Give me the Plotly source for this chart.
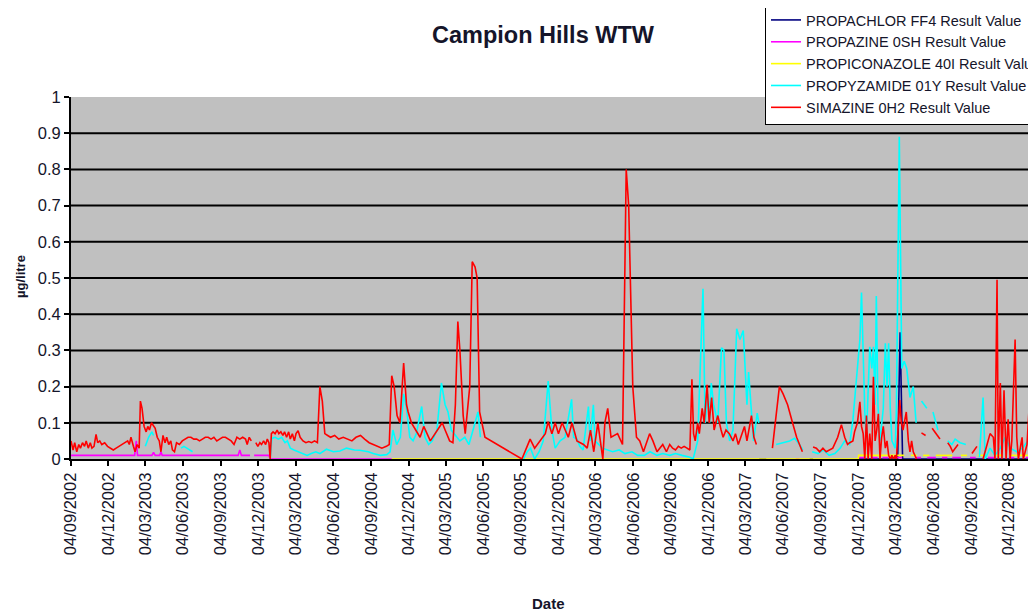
import plotly.graph_objects as go

chart_title = "Campion Hills WTW"
y_title = "µg/litre"
x_title = "Date"

series_names = [
    "PROPACHLOR FF4 Result Value",
    "PROPAZINE 0SH Result Value",
    "PROPICONAZOLE 40I Result Value",
    "PROPYZAMIDE 01Y Result Value",
    "SIMAZINE 0H2 Result Value",
]
series_colors = ["#000080", "#FF00FF", "#FFFF00", "#00FFFF", "#FF0000"]

quarter_ticks = [
    "2002-09-04", "2002-12-04", "2003-03-04", "2003-06-04", "2003-09-04", "2003-12-04",
    "2004-03-04", "2004-06-04", "2004-09-04", "2004-12-04", "2005-03-04", "2005-06-04",
    "2005-09-04", "2005-12-04", "2006-03-04", "2006-06-04", "2006-09-04", "2006-12-04",
    "2007-03-04", "2007-06-04", "2007-09-04", "2007-12-04", "2008-03-04", "2008-06-04",
    "2008-09-04", "2008-12-04",
]
quarter_labels = [
    "04/09/2002", "04/12/2002", "04/03/2003", "04/06/2003", "04/09/2003", "04/12/2003",
    "04/03/2004", "04/06/2004", "04/09/2004", "04/12/2004", "04/03/2005", "04/06/2005",
    "04/09/2005", "04/12/2005", "04/03/2006", "04/06/2006", "04/09/2006", "04/12/2006",
    "04/03/2007", "04/06/2007", "04/09/2007", "04/12/2007", "04/03/2008", "04/06/2008",
    "04/09/2008", "04/12/2008",
]
x_range = ["2002-09-04", "2009-02-04"]
grid_levels = [0.1, 0.2, 0.3, 0.4, 0.5, 0.6, 0.7, 0.8, 0.9]

# PROPACHLOR FF4 (date, value); None = gap
propachlor = [
    ("2007-04-07", 0.0), ("2007-04-24", 0.0), ("2007-05-01", None),
    ("2007-08-08", 0.0), ("2007-08-16", 0.0), ("2007-08-25", None),
    ("2007-12-04", 0.0), ("2008-03-09", 0.0), ("2008-03-15", 0.35), ("2008-03-21", 0.0),
    ("2009-02-04", 0.0),
]

# PROPAZINE 0SH
propazine = [
    ("2002-09-04", 0.01), ("2003-02-06", 0.01), ("2003-02-10", 0.05), ("2003-02-13", 0.01),
    ("2003-03-20", 0.01), ("2003-03-24", 0.018), ("2003-03-28", 0.01),
    ("2003-04-08", 0.01), ("2003-04-11", 0.02), ("2003-04-14", 0.01),
    ("2003-10-16", 0.01), ("2003-10-20", 0.025), ("2003-10-24", 0.01), ("2003-11-14", 0.01),
    ("2003-11-18", None),
    ("2003-11-24", 0.01), ("2003-12-30", 0.01), ("2004-01-02", 0.0), ("2004-10-24", 0.0),
    ("2004-11-01", None),
    ("2007-07-05", 0.0), ("2007-07-14", 0.0), ("2007-07-20", None),
    ("2007-12-04", 0.004), ("2007-12-20", 0.004), ("2007-12-28", None),
    ("2008-01-05", 0.004), ("2008-01-20", 0.004), ("2008-01-26", None),
    ("2008-02-01", 0.004), ("2008-02-15", 0.004), ("2008-02-25", None),
    ("2008-03-05", 0.004), ("2008-03-20", 0.004), ("2008-04-05", None),
    ("2008-04-20", 0.004), ("2008-05-05", 0.004), ("2008-05-12", None),
    ("2008-05-20", 0.004), ("2008-06-10", 0.004), ("2008-06-18", None),
    ("2008-06-25", 0.004), ("2008-07-08", 0.004), ("2008-07-14", None),
    ("2008-07-20", 0.004), ("2008-08-10", 0.004), ("2008-08-20", None),
    ("2008-09-01", 0.004), ("2008-09-15", 0.004), ("2008-10-01", None),
    ("2008-10-15", 0.004), ("2008-10-30", 0.004), ("2008-11-15", None),
    ("2008-12-05", 0.004), ("2008-12-18", 0.004), ("2009-01-01", None),
    ("2009-01-15", 0.004), ("2009-01-25", 0.004),
]

# PROPICONAZOLE 40I
propiconazole = [
    ("2004-10-24", 0.0), ("2007-12-04", 0.0), ("2007-12-05", 0.01), ("2008-03-25", 0.01),
    ("2008-04-02", None),
    ("2008-04-10", 0.01), ("2008-04-25", 0.01), ("2008-05-02", None),
    ("2008-05-10", 0.01), ("2008-05-25", 0.01), ("2008-06-02", None),
    ("2008-06-10", 0.01), ("2008-07-20", 0.01), ("2008-08-01", None),
    ("2008-08-10", 0.01), ("2008-08-25", 0.01), ("2008-09-10", None),
    ("2008-09-20", 0.01), ("2008-10-05", 0.01), ("2008-10-20", None),
    ("2008-11-01", 0.01), ("2008-11-20", 0.01), ("2008-12-01", None),
    ("2008-12-10", 0.01), ("2009-02-04", 0.01),
]

# PROPYZAMIDE 01Y
propyzamide = [
    ("2003-03-04", 0.035), ("2003-03-12", 0.06), ("2003-03-20", 0.075), ("2003-03-24", 0.065),
    ("2003-04-01", None),
    ("2003-05-30", 0.03), ("2003-06-06", 0.035), ("2003-06-13", 0.03), ("2003-06-20", 0.025),
    ("2003-06-27", 0.02), ("2003-07-05", None),
    ("2004-01-02", 0.0), ("2004-01-06", 0.057), ("2004-01-14", 0.06), ("2004-01-22", 0.055),
    ("2004-01-30", 0.06), ("2004-02-07", 0.045), ("2004-02-13", 0.05), ("2004-02-20", 0.03),
    ("2004-02-29", 0.025), ("2004-03-10", 0.02), ("2004-03-21", 0.015), ("2004-04-01", 0.01),
    ("2004-04-11", 0.015), ("2004-04-22", 0.02), ("2004-05-02", 0.015), ("2004-05-18", 0.027),
    ("2004-06-04", 0.02), ("2004-06-20", 0.022), ("2004-07-06", 0.03), ("2004-07-25", 0.025),
    ("2004-08-07", 0.024), ("2004-08-28", 0.02), ("2004-09-09", 0.015), ("2004-09-26", 0.01),
    ("2004-10-12", 0.012), ("2004-10-20", 0.02), ("2004-10-27", 0.08), ("2004-11-05", 0.04),
    ("2004-11-14", 0.06), ("2004-11-22", 0.18), ("2004-11-29", 0.14), ("2004-12-07", 0.06),
    ("2004-12-15", 0.05), ("2004-12-23", 0.07), ("2005-01-05", 0.145), ("2005-01-13", 0.06),
    ("2005-01-22", 0.04), ("2005-01-31", 0.05), ("2005-02-11", 0.08), ("2005-02-22", 0.21),
    ("2005-03-03", 0.15), ("2005-03-10", 0.13), ("2005-03-18", 0.08), ("2005-04-08", 0.05),
    ("2005-04-20", 0.06), ("2005-04-30", 0.04), ("2005-05-10", 0.08), ("2005-05-22", 0.13),
    ("2005-05-28", 0.06), ("2005-06-05", None),
    ("2005-09-10", 0.0), ("2005-09-19", 0.02), ("2005-09-27", 0.03), ("2005-10-07", 0.0),
    ("2005-10-18", 0.02), ("2005-10-28", 0.05), ("2005-11-09", 0.215), ("2005-11-18", 0.08),
    ("2005-11-26", 0.03), ("2005-12-08", 0.05), ("2005-12-20", 0.06), ("2006-01-05", 0.165),
    ("2006-01-10", 0.06), ("2006-01-18", 0.055), ("2006-01-25", 0.035), ("2006-02-02", 0.025),
    ("2006-02-15", 0.145), ("2006-02-19", 0.05), ("2006-02-27", 0.15), ("2006-03-03", 0.05),
    ("2006-03-21", 0.03), ("2006-04-01", 0.025), ("2006-04-15", 0.02), ("2006-05-01", 0.025),
    ("2006-05-15", 0.015), ("2006-06-01", 0.02), ("2006-06-15", 0.01), ("2006-07-01", 0.01),
    ("2006-07-15", 0.02), ("2006-08-01", 0.01), ("2006-08-15", 0.015), ("2006-09-01", 0.01),
    ("2006-09-15", 0.015), ("2006-10-01", 0.01), ("2006-10-20", 0.005), ("2006-10-28", 0.0),
    ("2006-11-08", 0.05), ("2006-11-21", 0.47), ("2006-11-26", 0.1), ("2006-12-03", 0.18),
    ("2006-12-07", 0.1), ("2006-12-11", 0.21), ("2006-12-17", 0.15), ("2006-12-27", 0.1),
    ("2007-01-05", 0.307), ("2007-01-11", 0.3), ("2007-01-17", 0.1), ("2007-01-25", 0.05),
    ("2007-02-02", 0.08), ("2007-02-11", 0.36), ("2007-02-19", 0.33), ("2007-02-27", 0.355),
    ("2007-03-08", 0.15), ("2007-03-12", 0.24), ("2007-03-20", 0.12), ("2007-03-24", 0.05),
    ("2007-04-02", 0.127), ("2007-04-06", 0.1), ("2007-04-12", None),
    ("2007-05-18", 0.04), ("2007-06-03", 0.045), ("2007-06-20", 0.05), ("2007-07-02", 0.057),
    ("2007-07-14", 0.04), ("2007-07-22", 0.025), ("2007-07-30", None),
    ("2007-08-14", 0.02), ("2007-08-28", 0.015), ("2007-09-10", 0.025), ("2007-09-24", 0.01),
    ("2007-10-08", 0.015), ("2007-10-21", 0.03), ("2007-11-01", 0.05), ("2007-11-13", 0.04),
    ("2007-11-21", 0.108), ("2007-11-30", 0.237), ("2007-12-08", 0.33), ("2007-12-12", 0.46),
    ("2007-12-16", 0.27), ("2007-12-20", 0.13), ("2007-12-24", 0.06), ("2007-12-28", 0.2),
    ("2008-01-01", 0.31), ("2008-01-06", 0.25), ("2008-01-10", 0.31), ("2008-01-14", 0.15),
    ("2008-01-17", 0.45), ("2008-01-21", 0.15), ("2008-01-26", 0.05), ("2008-02-03", 0.14),
    ("2008-02-08", 0.32), ("2008-02-12", 0.2), ("2008-02-16", 0.32), ("2008-02-20", 0.14),
    ("2008-02-24", 0.05), ("2008-03-03", 0.03), ("2008-03-06", 0.14), ("2008-03-13", 0.89),
    ("2008-03-19", 0.25), ("2008-03-25", 0.27), ("2008-03-31", 0.25), ("2008-04-08", 0.17),
    ("2008-04-16", 0.2), ("2008-04-23", 0.1), ("2008-05-01", None),
    ("2008-05-06", 0.16), ("2008-05-19", 0.14), ("2008-05-26", None),
    ("2008-06-03", 0.13), ("2008-06-15", 0.08), ("2008-06-25", None),
    ("2008-07-09", 0.05), ("2008-07-19", 0.04), ("2008-07-27", 0.055), ("2008-08-08", 0.045),
    ("2008-08-22", 0.04), ("2008-09-01", None),
    ("2008-09-24", 0.005), ("2008-10-03", 0.17), ("2008-10-08", 0.0), ("2008-10-20", 0.03),
    ("2008-11-01", 0.01), ("2008-11-14", 0.03), ("2008-11-26", 0.06), ("2008-12-08", 0.03),
    ("2008-12-24", 0.02), ("2009-01-07", 0.03), ("2009-01-20", 0.05), ("2009-01-28", 0.07),
    ("2009-02-02", 0.06),
]

# SIMAZINE 0H2
simazine = [
    ("2002-09-04", 0.05), ("2002-09-09", 0.025), ("2002-09-13", 0.045), ("2002-09-18", 0.02),
    ("2002-09-23", 0.04), ("2002-09-27", 0.03), ("2002-10-02", 0.045), ("2002-10-07", 0.035),
    ("2002-10-11", 0.05), ("2002-10-16", 0.03), ("2002-10-21", 0.045), ("2002-10-25", 0.03),
    ("2002-10-30", 0.035), ("2002-11-04", 0.068), ("2002-11-08", 0.045), ("2002-11-13", 0.05),
    ("2002-11-18", 0.04), ("2002-11-25", 0.045), ("2002-12-02", 0.035), ("2002-12-09", 0.03),
    ("2002-12-16", 0.025), ("2002-12-23", 0.03), ("2002-12-30", 0.035), ("2003-01-06", 0.04),
    ("2003-01-13", 0.045), ("2003-01-20", 0.05), ("2003-01-24", 0.04), ("2003-01-28", 0.06),
    ("2003-02-03", 0.035), ("2003-02-07", 0.02), ("2003-02-12", 0.04), ("2003-02-17", 0.03),
    ("2003-02-20", 0.16), ("2003-02-24", 0.14), ("2003-03-01", 0.09), ("2003-03-06", 0.075),
    ("2003-03-10", 0.09), ("2003-03-14", 0.08), ("2003-03-19", 0.1), ("2003-03-24", 0.09),
    ("2003-03-28", 0.085), ("2003-04-02", 0.06), ("2003-04-07", 0.05), ("2003-04-11", 0.02),
    ("2003-04-16", 0.065), ("2003-04-21", 0.045), ("2003-04-25", 0.06), ("2003-04-30", 0.04),
    ("2003-05-05", 0.05), ("2003-05-09", 0.025), ("2003-05-14", 0.02), ("2003-05-19", 0.045),
    ("2003-05-26", 0.04), ("2003-06-02", 0.05), ("2003-06-09", 0.055), ("2003-06-16", 0.06),
    ("2003-06-23", 0.06), ("2003-06-30", 0.055), ("2003-07-07", 0.055), ("2003-07-14", 0.05),
    ("2003-07-21", 0.055), ("2003-07-28", 0.06), ("2003-08-04", 0.06), ("2003-08-11", 0.055),
    ("2003-08-18", 0.06), ("2003-08-25", 0.05), ("2003-09-01", 0.055), ("2003-09-08", 0.06),
    ("2003-09-15", 0.06), ("2003-09-22", 0.055), ("2003-09-29", 0.05), ("2003-10-06", 0.04),
    ("2003-10-13", 0.06), ("2003-10-20", 0.055), ("2003-10-27", 0.06), ("2003-11-03", 0.055),
    ("2003-11-07", 0.04), ("2003-11-12", 0.06), ("2003-11-17", 0.05), ("2003-11-21", None),
    ("2003-11-28", 0.045), ("2003-12-03", 0.035), ("2003-12-08", 0.045), ("2003-12-12", 0.04),
    ("2003-12-17", 0.05), ("2003-12-22", 0.04), ("2003-12-26", 0.055), ("2003-12-30", 0.045),
    ("2004-01-02", 0.0), ("2004-01-05", 0.07), ("2004-01-09", 0.075), ("2004-01-14", 0.07),
    ("2004-01-19", 0.08), ("2004-01-23", 0.07), ("2004-01-28", 0.075), ("2004-02-02", 0.065),
    ("2004-02-06", 0.075), ("2004-02-11", 0.06), ("2004-02-16", 0.075), ("2004-02-20", 0.055),
    ("2004-02-25", 0.07), ("2004-03-01", 0.05), ("2004-03-05", 0.07), ("2004-03-10", 0.078),
    ("2004-03-15", 0.06), ("2004-03-22", 0.05), ("2004-03-29", 0.045), ("2004-04-05", 0.048),
    ("2004-04-12", 0.045), ("2004-04-19", 0.05), ("2004-04-26", 0.045), ("2004-05-02", 0.2),
    ("2004-05-08", 0.16), ("2004-05-14", 0.07), ("2004-05-21", 0.065), ("2004-05-28", 0.06),
    ("2004-06-07", 0.065), ("2004-06-17", 0.055), ("2004-06-28", 0.06), ("2004-07-08", 0.055),
    ("2004-07-19", 0.05), ("2004-07-29", 0.06), ("2004-08-09", 0.065), ("2004-08-19", 0.055),
    ("2004-08-30", 0.045), ("2004-09-09", 0.04), ("2004-09-20", 0.035), ("2004-09-30", 0.03),
    ("2004-10-11", 0.035), ("2004-10-18", 0.04), ("2004-10-24", 0.23), ("2004-10-30", 0.2),
    ("2004-11-06", 0.12), ("2004-11-13", 0.1), ("2004-11-22", 0.265), ("2004-11-29", 0.15),
    ("2004-12-03", 0.13), ("2004-12-11", 0.1), ("2005-01-01", 0.06), ("2005-01-10", 0.09),
    ("2005-01-26", 0.05), ("2005-02-07", 0.07), ("2005-02-20", 0.09), ("2005-02-24", 0.1),
    ("2005-03-03", 0.08), ("2005-03-14", 0.05), ("2005-03-22", 0.045), ("2005-03-28", 0.15),
    ("2005-04-03", 0.38), ("2005-04-08", 0.3), ("2005-04-16", 0.12), ("2005-04-21", 0.07),
    ("2005-05-02", 0.2), ("2005-05-08", 0.545), ("2005-05-15", 0.53), ("2005-05-20", 0.5),
    ("2005-05-26", 0.13), ("2005-06-08", 0.06), ("2005-09-06", 0.0), ("2005-09-26", 0.055),
    ("2005-10-07", 0.03), ("2005-10-20", 0.05), ("2005-11-02", 0.07), ("2005-11-09", 0.103),
    ("2005-11-18", 0.07), ("2005-11-26", 0.1), ("2005-12-04", 0.07), ("2005-12-13", 0.1),
    ("2005-12-20", 0.08), ("2005-12-28", 0.06), ("2006-01-06", 0.1), ("2006-01-18", 0.05),
    ("2006-02-03", 0.04), ("2006-02-12", 0.03), ("2006-02-20", 0.08), ("2006-02-28", 0.02),
    ("2006-03-10", 0.1), ("2006-03-22", 0.0), ("2006-03-27", 0.1), ("2006-04-03", 0.14),
    ("2006-04-11", 0.06), ("2006-04-27", 0.07), ("2006-05-09", 0.04), ("2006-05-18", 0.8),
    ("2006-05-24", 0.7), ("2006-06-03", 0.2), ("2006-06-12", 0.06), ("2006-06-20", 0.05),
    ("2006-06-29", 0.02), ("2006-07-14", 0.07), ("2006-07-22", 0.05), ("2006-08-01", 0.02),
    ("2006-08-15", 0.04), ("2006-08-24", 0.02), ("2006-09-01", 0.04), ("2006-09-08", 0.03),
    ("2006-09-15", 0.025), ("2006-09-22", 0.035), ("2006-09-29", 0.03), ("2006-10-06", 0.035),
    ("2006-10-13", 0.03), ("2006-10-20", 0.025), ("2006-10-25", 0.22), ("2006-10-29", 0.07),
    ("2006-11-02", 0.05), ("2006-11-08", 0.1), ("2006-11-12", 0.07), ("2006-11-19", 0.14),
    ("2006-11-24", 0.1), ("2006-12-01", 0.205), ("2006-12-06", 0.1), ("2006-12-12", 0.17),
    ("2006-12-18", 0.08), ("2006-12-27", 0.12), ("2007-01-04", 0.08), ("2007-01-09", 0.06),
    ("2007-01-16", 0.08), ("2007-01-24", 0.07), ("2007-02-02", 0.05), ("2007-02-08", 0.07),
    ("2007-02-15", 0.04), ("2007-03-02", 0.09), ("2007-03-08", 0.05), ("2007-03-19", 0.12),
    ("2007-03-25", 0.06), ("2007-03-31", 0.04), ("2007-04-10", None),
    ("2007-05-09", 0.03), ("2007-05-16", 0.1), ("2007-05-26", 0.2), ("2007-06-04", 0.18),
    ("2007-06-15", 0.15), ("2007-06-27", 0.1), ("2007-07-07", 0.06), ("2007-07-14", 0.04),
    ("2007-07-21", 0.02), ("2007-07-30", None),
    ("2007-08-16", 0.033), ("2007-08-24", 0.03), ("2007-09-01", 0.02), ("2007-09-09", 0.03),
    ("2007-09-17", 0.02), ("2007-09-26", 0.025), ("2007-10-03", 0.03), ("2007-10-15", 0.06),
    ("2007-10-24", 0.095), ("2007-11-01", 0.06), ("2007-11-08", 0.04), ("2007-11-13", 0.045),
    ("2007-11-21", 0.05), ("2007-11-25", 0.075), ("2007-12-02", 0.1), ("2007-12-08", 0.158),
    ("2007-12-12", 0.09), ("2007-12-16", 0.07), ("2007-12-20", 0.0), ("2007-12-24", 0.12),
    ("2007-12-28", 0.0), ("2008-01-01", 0.07), ("2008-01-06", 0.0), ("2008-01-10", 0.227),
    ("2008-01-14", 0.05), ("2008-01-18", 0.08), ("2008-01-22", 0.125), ("2008-01-26", 0.0),
    ("2008-01-30", 0.06), ("2008-02-03", 0.09), ("2008-02-08", 0.03), ("2008-02-12", 0.05),
    ("2008-02-16", 0.01), ("2008-02-20", 0.0), ("2008-02-24", 0.01), ("2008-02-28", 0.0),
    ("2008-03-03", 0.01), ("2008-03-06", 0.0), ("2008-03-14", 0.163), ("2008-03-18", 0.1),
    ("2008-03-22", 0.08), ("2008-03-30", 0.13), ("2008-04-04", 0.05), ("2008-04-08", 0.02),
    ("2008-04-12", 0.05), ("2008-04-16", 0.02), ("2008-04-24", 0.0), ("2008-05-02", None),
    ("2008-05-06", 0.072), ("2008-05-16", 0.065), ("2008-05-25", None),
    ("2008-06-01", 0.085), ("2008-06-10", 0.07), ("2008-06-20", 0.055), ("2008-06-28", None),
    ("2008-07-09", 0.045), ("2008-07-15", 0.035), ("2008-07-21", 0.02), ("2008-07-27", 0.03),
    ("2008-08-03", 0.04), ("2008-08-15", None),
    ("2008-09-06", 0.015), ("2008-09-18", 0.035), ("2008-09-26", None),
    ("2008-10-03", 0.0), ("2008-10-12", 0.04), ("2008-10-20", 0.07), ("2008-10-28", 0.06),
    ("2008-11-01", 0.0), ("2008-11-06", 0.495), ("2008-11-09", 0.0), ("2008-11-14", 0.21),
    ("2008-11-18", 0.0), ("2008-11-23", 0.19), ("2008-11-28", 0.0), ("2008-12-03", 0.11),
    ("2008-12-08", 0.0), ("2008-12-12", 0.05), ("2008-12-20", 0.33), ("2008-12-24", 0.06),
    ("2008-12-28", 0.0), ("2009-01-06", 0.06), ("2009-01-09", 0.0), ("2009-01-18", 0.04),
    ("2009-01-23", 0.14), ("2009-01-28", 0.12), ("2009-02-02", 0.16),
]

all_series = [propachlor, propazine, propiconazole, propyzamide, simazine]

FONT = "Liberation Sans, Arial, sans-serif"
TXT = "#15152a"

# figure geometry (page has an 8px body margin)
W, H = 1028, 605
PL, PT, PR, PB = 63, 89, 1026, 451   # plot area left/top/right/bottom in figure px
PW, PH = PR - PL, PB - PT

fig = go.Figure()
for name, color, pts in zip(series_names, series_colors, all_series):
    fig.add_trace(go.Scatter(
        x=[p[0] for p in pts],
        y=[p[1] for p in pts],
        mode="lines",
        name=name,
        line=dict(color=color, width=1.6),
        connectgaps=False,
    ))

shapes = [
    dict(type="line", xref="paper", yref="y", x0=0, x1=1, y0=g, y1=g,
         line=dict(color="black", width=2), layer="below")
    for g in grid_levels
]

fig.update_layout(
    width=W, height=H,
    margin=dict(l=PL, r=W - PR, t=PT, b=H - PB, autoexpand=False),
    paper_bgcolor="white",
    plot_bgcolor="#C0C0C0",
    font=dict(family=FONT, color=TXT),
    title=dict(text="<b>" + chart_title + "</b>", x=535 / W, xanchor="center",
               y=1 - 27 / H, yanchor="middle", xref="container", yref="container",
               font=dict(size=23.5, color=TXT, family=FONT)),
    showlegend=True,
    legend=dict(x=(757 - PL) / PW, xanchor="left", y=(PB - (-5)) / PH, yanchor="top",
                bgcolor="white", bordercolor="black", borderwidth=1,
                font=dict(size=14.5, color=TXT, family=FONT), traceorder="normal"),
    shapes=shapes,
    annotations=[
        dict(text="<b>" + x_title + "</b>", xref="paper", yref="paper",
             x=(540 - PL) / PW, y=(PB - 595) / PH, xanchor="center", yanchor="middle",
             showarrow=False, font=dict(size=15, color=TXT, family=FONT)),
        dict(text="<b>" + y_title + "</b>", xref="paper", yref="paper",
             x=(12 - PL) / PW, y=(PB - 269) / PH, xanchor="center", yanchor="middle",
             textangle=-90, showarrow=False, font=dict(size=13, color=TXT, family=FONT)),
    ],
    xaxis=dict(
        type="date", range=x_range, tickmode="array", tickvals=quarter_ticks,
        ticktext=quarter_labels, tickangle=-90, ticks="outside", ticklen=5,
        tickcolor="black", tickwidth=1.5, showline=True, linecolor="black", linewidth=2,
        showgrid=False, zeroline=False, layer="below traces",
        tickfont=dict(size=16.5, color=TXT, family=FONT),
    ),
    yaxis=dict(
        range=[0, 1], tick0=0, dtick=0.1, ticks="outside", ticklen=5, tickcolor="black",
        tickwidth=1.5, showline=True, linecolor="black", linewidth=2, showgrid=False,
        zeroline=False, layer="below traces",
        tickfont=dict(size=16.5, color=TXT, family=FONT),
    ),
)

fig.write_html("out.html")
